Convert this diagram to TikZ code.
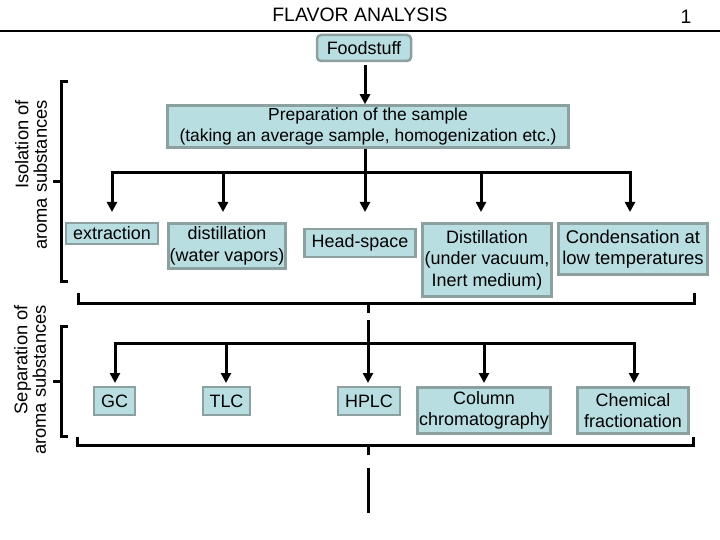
\documentclass[tikz,border=0pt]{standalone}
\usepackage{fontspec}
\setmainfont{Liberation Sans}
\usetikzlibrary{arrows.meta}
\definecolor{boxfill}{RGB}{185,222,226}
\definecolor{boxline}{RGB}{140,160,160}
\newcommand\myfont{\fontsize{18}{21.5}\selectfont}
\newcommand\prepfont{\fontsize{17.5}{20.5}\selectfont}
\newcommand\condfont{\fontsize{18.5}{21.5}\selectfont}
\newcommand\lblfont{\fontsize{18.4}{18.5}\selectfont}
\begin{document}
\begin{tikzpicture}[x=1bp,y=-1bp,
  box/.style={draw=boxline, fill=boxfill, line width=2.5bp, inner sep=0pt, align=center, font=\myfont},
  conn/.style={line width=3bp, black},
  thinconn/.style={line width=2bp, black},
  arr/.style={conn, -{Triangle[width=10bp,length=10bp]}},
  arr2/.style={conn, {Triangle[width=10bp,length=10bp]}-{Triangle[width=10bp,length=10bp]}},
  lbl/.style={rotate=90, align=right, font=\lblfont, inner sep=0pt, anchor=east},
]
\useasboundingbox (0,0) rectangle (720,540);
% header
\node[font=\fontsize{19.5}{22}\selectfont, inner sep=0pt] (title) at (360,15) {FLAVOR ANALYSIS};
\node[font=\fontsize{19.5}{22}\selectfont, inner sep=0pt] (page) at (686,17) {1};
\coordinate (hl) at (0,31);
\coordinate (hr) at (720,31);
\draw[thinconn] (hl) -- (hr);

% boxes
\node[box, rounded corners=4bp, minimum width=94bp, minimum height=26bp] (food) at (364,48) {Foodstuff};
\node[box, font=\prepfont, minimum width=401bp, minimum height=42bp] (prep) at (368,126.5) {Preparation of the sample\\(taking an average sample, homogenization etc.)};

\node[box, minimum width=92bp, minimum height=21bp] (ext) at (112,233.5) {extraction};
\node[box, minimum width=117bp, minimum height=45bp] (dist) at (227,246) {distillation\\(water vapors)};
\node[box, minimum width=111bp, minimum height=28bp] (head) at (360,243) {Head-space};
\node[box, minimum width=129bp, minimum height=73bp] (vac) at (487,260) {Distillation\\(under vacuum,\\Inert medium)};
\node[box, font=\condfont, minimum width=149bp, minimum height=51bp] (cond) at (633,249) {Condensation at\\low temperatures};

\node[box, minimum width=41bp, minimum height=28bp] (gc) at (114.5,401) {GC};
\node[box, minimum width=47bp, minimum height=28bp] (tlc) at (226.5,401) {TLC};
\node[box, minimum width=62bp, minimum height=28bp] (hplc) at (369,401) {HPLC};
\node[box, minimum width=133bp, minimum height=46bp] (col) at (484,410.5) {Column\\chromatography};
\node[box, minimum width=111bp, minimum height=46bp] (chem) at (633,410.5) {Chemical\\fractionation};

% side labels
\node[lbl] (iso) at (31,100) {Isolation of\\aroma substances};
\node[lbl] (sep) at (30,305) {Separation of\\aroma substances};

% food -> prep
\coordinate (fx) at (365,0);
\draw[arr, shorten <=3bp] (fx |- food.south) -- (fx |- prep.north);

% row 1 distribution
\coordinate (tip1) at (0,212);
\coordinate (r1a) at (112,173);
\coordinate (r1b) at (223,173);
\coordinate (r1c) at (365,173);
\coordinate (r1d) at (481,173);
\coordinate (r1e) at (630,173);
\draw[arr2] (r1a |- tip1) -- (r1a) -- (r1e) -- (r1e |- tip1);
\draw[arr] (r1b) -- (r1b |- tip1);
\draw[arr] (r1d) -- (r1d |- tip1);
\draw[arr] (r1c |- prep.south) -- (r1c |- tip1);

% left brace 1
\coordinate (b1t) at (68,82);
\coordinate (b1b) at (68,281);
\coordinate (b1m) at (53,182);
\draw[conn] (b1t) -- (61,82) -- (61,281) -- (b1b);
\draw[conn] (b1m) -- (61,182);

% bottom bracket 1
\coordinate (k1l) at (78,293);
\coordinate (k1r) at (694,293);
\coordinate (k1c) at (368,303);
\draw[conn] (k1l) -- (k1l |- k1c) -- (k1r |- k1c) -- (k1r);
\coordinate (k1t) at (368,313);
\draw[conn] (k1c) -- (k1t);

% row 2 distribution
\coordinate (tip2) at (0,383);
\coordinate (s0) at (368,320);
\coordinate (r2a) at (115,343);
\coordinate (r2b) at (226,343);
\coordinate (r2c) at (368,343);
\coordinate (r2d) at (484,343);
\coordinate (r2e) at (634,343);
\draw[arr2] (r2a |- tip2) -- (r2a) -- (r2e) -- (r2e |- tip2);
\draw[arr] (r2b) -- (r2b |- tip2);
\draw[arr] (r2d) -- (r2d |- tip2);
\draw[arr] (s0) -- (s0 |- tip2);

% left brace 2
\coordinate (b2t) at (68,326);
\coordinate (b2b) at (68,436);
\coordinate (b2m) at (53,381);
\draw[conn] (b2t) -- (61,326) -- (61,436) -- (b2b);
\draw[conn] (b2m) -- (61,381);

% bottom bracket 2
\coordinate (k2l) at (77,437);
\coordinate (k2r) at (693,437);
\coordinate (k2c) at (368,445);
\draw[conn] (k2l) -- (k2l |- k2c) -- (k2r |- k2c) -- (k2r);
\coordinate (k2t) at (368,455);
\draw[conn] (k2c) -- (k2t);
\coordinate (e1) at (368,468);
\coordinate (e2) at (368,513);
\draw[conn] (e1) -- (e2);
\end{tikzpicture}
\end{document}
